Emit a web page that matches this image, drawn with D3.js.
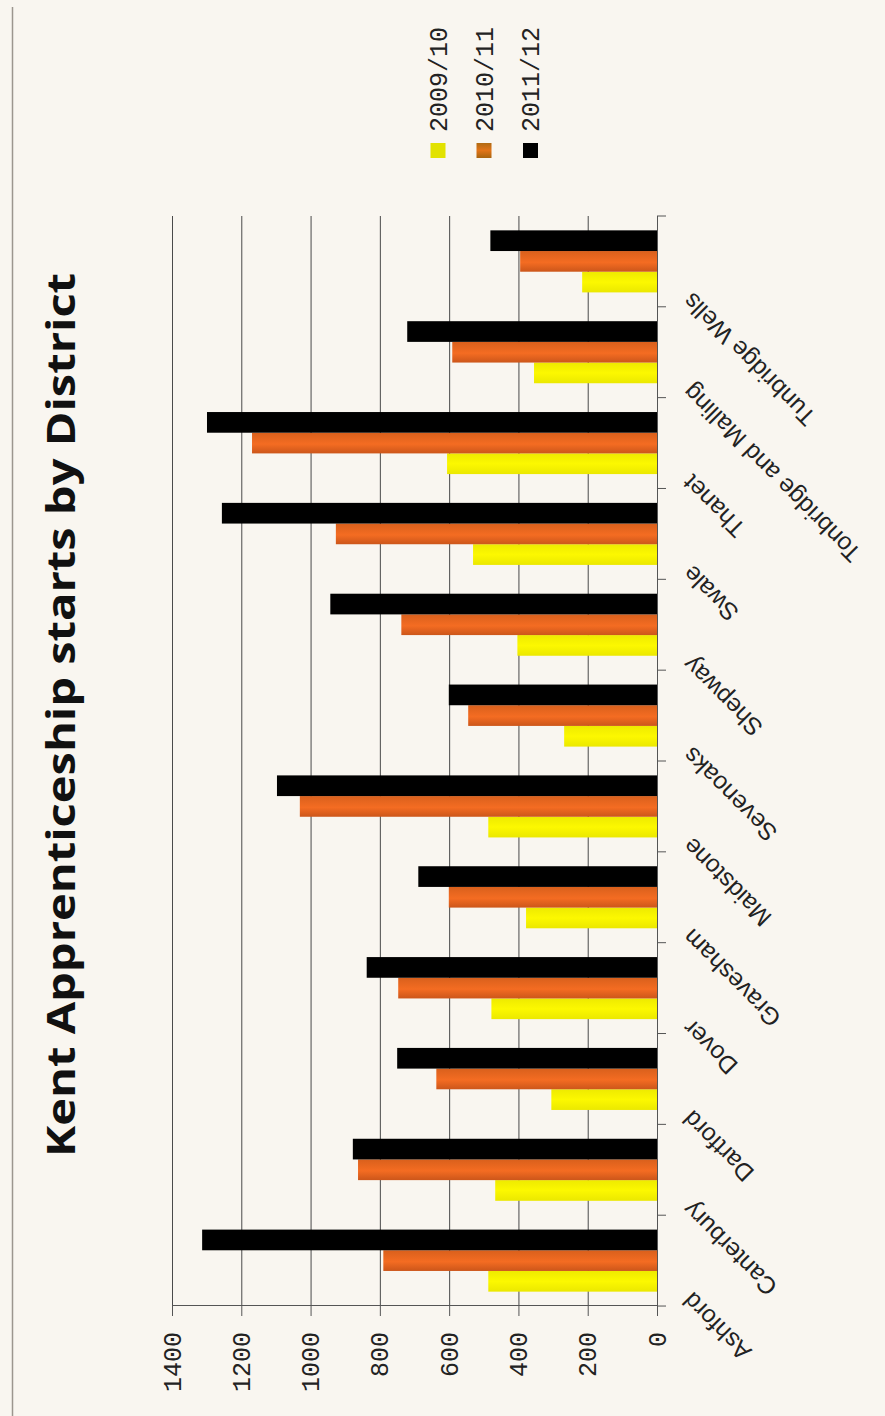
<!DOCTYPE html>
<html>
<head>
<meta charset="utf-8">
<script src="https://cdn.jsdelivr.net/npm/d3@7"></script>
<style>
  html, body { margin: 0; padding: 0; background: #f9f6f0; }
  svg { display: block; }
</style>
</head>
<body>
<svg id="chart" width="885" height="1416"></svg>
<script>
// Districts along the category axis
const districts = ["Ashford", "Canterbury", "Dartford", "Dover", "Gravesham", "Maidstone",
  "Sevenoaks", "Shepway", "Swale", "Thanet", "Tonbridge and Malling", "Tunbridge Wells"];

// Apprenticeship starts per district, one array per year
const starts2009 = [487, 467, 305, 478, 378, 487, 268, 403, 531, 606, 355, 216];
const starts2010 = [790, 863, 637, 747, 601, 1031, 545, 738, 927, 1169, 591, 395];
const starts2011 = [1313, 878, 750, 838, 689, 1097, 601, 943, 1256, 1299, 721, 481];

const seriesNames = ["2009/10", "2010/11", "2011/12"];
const valueTicks = [0, 200, 400, 600, 800, 1000, 1200, 1400];
const titleText = "Kent Apprenticeship starts by District";

const seriesValues = [starts2009, starts2010, starts2011];

const svg = d3.select("#chart");

// page frame line on the left edge
svg.append("line")
  .attr("x1", 12.5).attr("x2", 12.5).attr("y1", 7).attr("y2", 1416)
  .attr("stroke", "#9c968e").attr("stroke-width", 1.5);

// gradients for the bar fills
const defs = svg.append("defs");
function grad(id, stops) {
  const g = defs.append("linearGradient").attr("id", id)
    .attr("x1", 0).attr("y1", 0).attr("x2", 1).attr("y2", 0);
  stops.forEach(s => g.append("stop").attr("offset", s[0]).attr("stop-color", s[1]));
}
grad("gYellow", [[0, "#ebe800"], [0.5, "#fcf800"], [1, "#eeea00"]]);
grad("gOrange", [[0, "#cc561a"], [0.45, "#f46c22"], [1, "#d9601c"]]);
grad("gBlack", [[0, "#000"], [1, "#000"]]);
grad("gOrangeKey", [[0, "#a8640e"], [0.5, "#e27418"], [1, "#b06a12"]]);
const fills = ["url(#gYellow)", "url(#gOrange)", "url(#gBlack)"];
const keyFills = ["#e2e200", "url(#gOrangeKey)", "#000"];

// The chart is laid out as a column chart (1416 wide, 885 tall) and turned a quarter turn.
const W = 1416;
const g = svg.append("g").attr("transform", `translate(0,${W}) rotate(-90)`);

const plot = { left: 110, right: 1200, top: 172, bottom: 657 };

const x = d3.scaleBand().domain(districts)
  .range([plot.left, plot.right]).paddingInner(0.317).paddingOuter(0.158);
const xSub = d3.scaleBand().domain(seriesNames).range([0, x.bandwidth()]);
const y = d3.scaleLinear().domain([0, 1400]).range([plot.bottom, plot.top]);

// gridlines
g.append("g").selectAll("line")
  .data(valueTicks.filter(v => v > 0))
  .join("line")
  .attr("x1", plot.left).attr("x2", plot.right)
  .attr("y1", d => y(d) + 0.5).attr("y2", d => y(d) + 0.5)
  .attr("stroke", "#4a4a4a").attr("stroke-width", 1);

// bars
seriesNames.forEach((name, si) => {
  g.append("g").selectAll("rect")
    .data(districts.map((d, i) => ({ d, v: seriesValues[si][i] })))
    .join("rect")
    .attr("x", r => x(r.d) + xSub(name))
    .attr("width", xSub.bandwidth())
    .attr("y", r => y(r.v))
    .attr("height", r => y(0) - y(r.v))
    .attr("fill", fills[si]);
});

// value axis
const yAxis = d3.axisLeft(y).tickValues(valueTicks).tickFormat(d3.format("d"))
  .tickSize(10).tickPadding(16);
const ya = g.append("g").attr("transform", `translate(${plot.left},0)`).call(yAxis);
ya.select(".domain").attr("stroke", "#555");
ya.selectAll(".tick line").attr("stroke", "#555");
ya.selectAll(".tick text")
  .attr("font-family", "'Liberation Mono', monospace")
  .attr("font-size", 25).attr("fill", "#222");

// category axis: ticks on the band boundaries
const catLine = g.append("g");
catLine.append("line")
  .attr("x1", plot.left).attr("x2", plot.right)
  .attr("y1", plot.bottom + 0.5).attr("y2", plot.bottom + 0.5)
  .attr("stroke", "#555");
const bounds = districts.map(d => x(d) - x.step() * x.paddingInner() / 2).concat([plot.right]);
catLine.selectAll("line.tk").data(bounds).join("line").attr("class", "tk")
  .attr("x1", d => d).attr("x2", d => d)
  .attr("y1", plot.bottom).attr("y2", plot.bottom + 9)
  .attr("stroke", "#555");

// slanted district labels
g.append("g").selectAll("text")
  .data(districts)
  .join("text")
  .attr("transform", d => `translate(${x(d) + x.bandwidth() / 2 - 30},${plot.bottom + 36}) rotate(-45)`)
  .attr("text-anchor", "end")
  .attr("font-family", "'Liberation Sans', Arial, sans-serif")
  .attr("font-size", 24.5)
  .attr("fill", "#222")
  .text(d => d);

// title
g.append("text")
  .attr("x", 701).attr("y", 75)
  .attr("text-anchor", "middle")
  .attr("font-family", "'Open Sans', sans-serif")
  .attr("font-weight", 700)
  .attr("font-size", 39)
  .attr("textLength", 884)
  .attr("lengthAdjust", "spacingAndGlyphs")
  .attr("fill", "#111")
  .text(titleText);

// legend
const legend = g.append("g");
const legendRows = [437.5, 483.5, 530];
seriesNames.forEach((name, i) => {
  const row = legend.append("g").attr("transform", `translate(1258,${legendRows[i]})`);
  row.append("rect").attr("x", 0).attr("y", -7).attr("width", 15).attr("height", 15)
    .attr("fill", keyFills[i]);
  row.append("text").attr("x", 26).attr("y", 9)
    .attr("font-family", "'Liberation Mono', monospace")
    .attr("font-size", 25).attr("fill", "#222")
    .text(name);
});
</script>
</body>
</html>
